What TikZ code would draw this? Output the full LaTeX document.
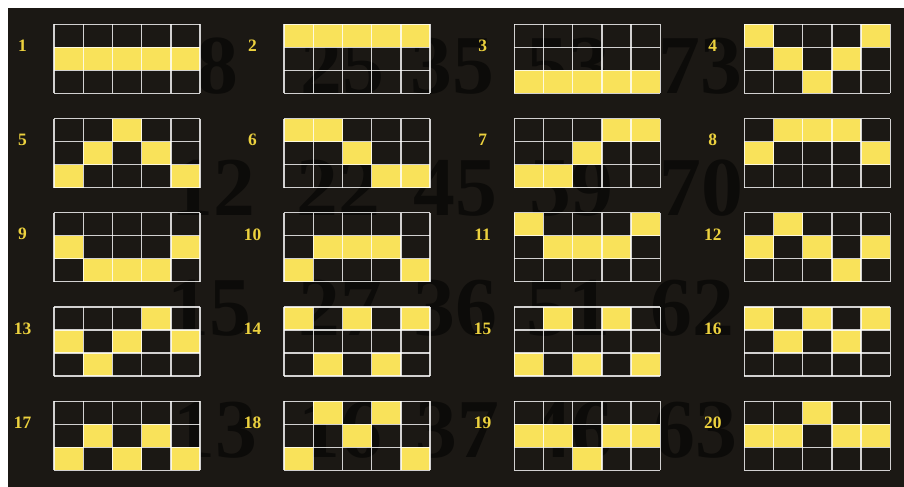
\documentclass[tikz,border=0pt]{standalone}
\usepackage{fontspec}
\setmainfont{Liberation Serif}
\definecolor{bg}{HTML}{1B1814}
\definecolor{bignum}{HTML}{0C0B09}
\definecolor{cellyellow}{HTML}{F9E25A}
\definecolor{labelyellow}{HTML}{EDD23E}
\tikzset{
  bignumstyle/.style={inner sep=0pt, text=bignum, font=\fontsize{84}{84}\selectfont\bfseries},
  lblstyle/.style={inner sep=0pt, text=labelyellow, font=\fontsize{17.5}{17.5}\selectfont\bfseries},
  gridl/.style={draw=white, draw opacity=0.8, line width=1.4bp},
  cellfill/.style={fill=cellyellow}
}
\begin{document}
\begin{tikzpicture}[x=1bp,y=-1bp]
\useasboundingbox (0,0) rectangle (904,487);
\fill[white] (0,0) rectangle (904,487);
\fill[bg] (8,8) rectangle (904,487);
% faint background numbers
\foreach \t/\px/\py in {8/217/66, 25/342/66, 35/452/66, 53/568/66, 73/700/66,
  12/213/188, 22/338/188, 45/455/188, 59/571/188, 70/701/188,
  15/209/308, 27/340/308, 36/455/308, 51/568/308, 62/692/308,
  13/215/430, 16/340/430, 37/457/430, 46/571/430, 63/695/430}
  \node[bignumstyle] (bn\t) at (\px,\py) {\t};
% paylines
\foreach \n/\a/\b/\c/\d/\e in {
  1/1/1/1/1/1, 2/0/0/0/0/0, 3/2/2/2/2/2, 4/0/1/2/1/0,
  5/2/1/0/1/2, 6/0/0/1/2/2, 7/2/2/1/0/0, 8/1/0/0/0/1,
  9/1/2/2/2/1, 10/2/1/1/1/2, 11/0/1/1/1/0, 12/1/0/1/2/1,
  13/1/2/1/0/1, 14/0/2/0/2/0, 15/2/0/2/0/2, 16/0/1/0/1/0,
  17/2/1/2/1/2, 18/2/0/1/0/2, 19/1/1/2/1/1, 20/1/1/0/1/1}{
  \pgfmathsetmacro\gx{54+230.1*mod(\n-1,4)}
  \pgfmathsetmacro\gy{24.3+94.25*floor((\n-1)/4)}
  \foreach \k/\rr in {0/\a,1/\b,2/\c,3/\d,4/\e}
    \fill[cellfill] (\gx+\k*29.2,\gy+\rr*23) rectangle ++(29.2,23);
  \foreach \k in {0,...,5}
    \draw[gridl] (\gx+\k*29.2,\gy) -- ++(0,69);
  \foreach \k in {0,...,3}
    \draw[gridl] (\gx,\gy+\k*23) -- ++(146,0);
  \node[lblstyle] (lab\n) at (\gx-31.5,\gy+21.5) {\n};
}
\end{tikzpicture}
\end{document}
